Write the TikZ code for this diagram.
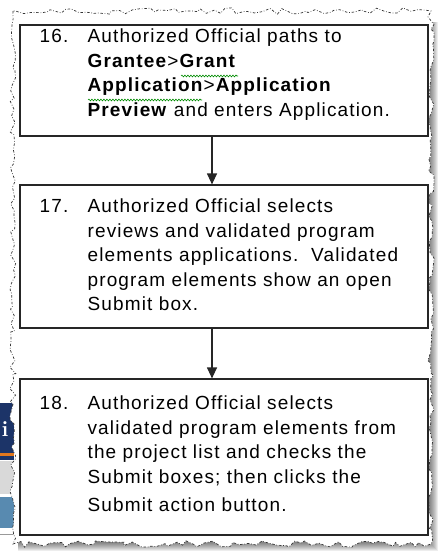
\documentclass[tikz,border=0pt]{standalone}
\usepackage{fontspec}
\newfontfamily\stepfont[LetterSpace=6]{Liberation Sans}
\usetikzlibrary{arrows.meta,decorations.pathmorphing,positioning}

\definecolor{navyband}{RGB}{28,52,104}
\definecolor{steelband}{RGB}{88,138,176}
\definecolor{orangeline}{RGB}{226,120,30}

\tikzset{
  stepbox/.style={draw=black!85, line width=1.2pt, fill=white, inner sep=0pt},
  steptext/.style={anchor=north west, inner sep=0pt, align=left,
    font=\stepfont\fontsize{19}{24.5}\selectfont},
  flow/.style={line width=1.2pt, draw=black!85, -{Triangle[length=11pt,width=10pt]}},
  torn/.style={decorate, decoration={random steps, segment length=6pt, amplitude=3.2pt}},
  spell/.style={green!55!black, line width=0.6pt, decorate,
    decoration={snake, amplitude=0.9pt, segment length=3pt}},
}

\begin{document}
\begin{tikzpicture}[x=1pt,y=-1pt]
\useasboundingbox (0,0) rectangle (442,556);
% screenshot fragment behind the page
\fill[navyband] (0,403) rectangle (14,460);
\node[white, font=\bfseries\fontsize{22}{22}\selectfont, inner sep=0] (frag) at (5,429) {i};
\fill[orangeline] (0,453) rectangle (14,456);
\fill[black!15] (0,461) rectangle (14,494);
\fill[steelband] (0,497) rectangle (14,528);
\draw[black!40] (0,534) -- (14,534);
% shadow of the torn page
\foreach \d in {1,...,10}
  \fill[black, opacity=0.07] (18,22) rectangle (428+\d,541+\d);
% the torn page
\pgfmathsetseed{11}
\path[torn, fill=white, draw=black!80, line width=0.7pt,
  dash pattern=on 2.5pt off 1.8pt on 0.7pt off 1.8pt] (13,11) rectangle (431,544);
% steps
\node[stepbox, minimum width=408pt, minimum height=111pt] (box16) at (224,80.5) {};
\node[stepbox, minimum width=408pt, minimum height=143pt] (box17) at (224,256.5) {};
\node[stepbox, minimum width=408pt, minimum height=156pt] (box18) at (224,457) {};
\node[steptext] (text16) at ([xshift=20pt,yshift=-0.9pt]box16.north west) {%
  \begin{tabular}{@{}p{48pt}@{}l@{}}
  16. & Authorized Official paths to\\
      & \textbf{Grantee}>\textbf{Grant}\\
      & \textbf{Application}>\textbf{Application}\\
      & \textbf{Preview} and enters Application.
  \end{tabular}};
\node[steptext] (text17) at ([xshift=20pt,yshift=-10.9pt]box17.north west) {%
  \begin{tabular}{@{}p{48pt}@{}l@{}}
  17. & Authorized Official selects\\
      & reviews and validated program\\
      & elements applications.\ \ Validated\\
      & program elements show an open\\
      & Submit box.
  \end{tabular}};
\node[steptext] (text18) at ([xshift=20pt,yshift=-13.9pt]box18.north west) {%
  \begin{tabular}{@{}p{48pt}@{}l@{}}
  18. & Authorized Official selects\\
      & validated program elements from\\
      & the project list and checks the\\
      & Submit boxes; then clicks the\\[4pt]
      & Submit action button.
  \end{tabular}};
% spelling marks
\draw[spell] (181,76) -- (238,76);
\draw[spell] (88,100) -- (202,100);
\draw[flow] ([xshift=-12pt]box16.south) -- ([xshift=-12pt]box17.north);
\draw[flow] ([xshift=-12pt]box17.south) -- ([xshift=-12pt]box18.north);
\end{tikzpicture}
\end{document}
